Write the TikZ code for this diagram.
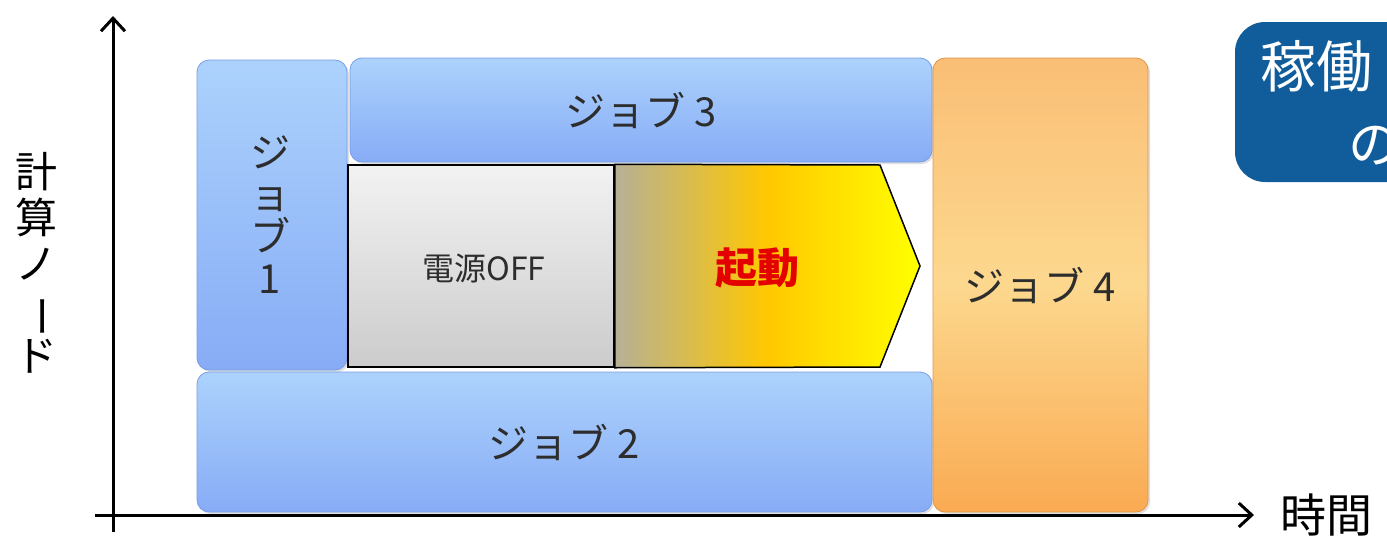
\documentclass[tikz,border=0pt]{standalone}
\usepackage{fontspec}
\usepackage{graphicx}
\setmainfont{Noto Sans CJK JP}
\usetikzlibrary{arrows.meta,shadows}
\definecolor{btop}{RGB}{172,210,252}
\definecolor{bbot}{RGB}{135,172,246}
\definecolor{bedge}{RGB}{120,158,232}
\definecolor{otop}{RGB}{250,190,118}
\definecolor{omid}{RGB}{252,216,142}
\definecolor{obot}{RGB}{250,170,82}
\definecolor{oedge}{RGB}{225,150,70}
\definecolor{txt}{RGB}{45,45,45}
\definecolor{callout}{RGB}{17,93,155}
\definecolor{bootl}{RGB}{182,176,150}
\definecolor{bootm}{RGB}{255,200,0}
\definecolor{bootr}{RGB}{255,255,0}
\tikzset{
  jobbox/.style={rounded corners=12pt, draw=bedge, line width=0.8pt,
    top color=btop, bottom color=bbot, text=txt, inner sep=0pt,
    drop shadow={shadow xshift=2pt, shadow yshift=-2pt, opacity=0.25},
    font=\fontsize{40}{42}\selectfont, align=center},
  jobfour/.style={jobbox, draw=oedge, top color=otop, bottom color=obot, middle color=omid},
  offbox/.style={draw=black, line width=1.5pt, top color=white!95!black, bottom color=white!80!black,
    inner sep=0pt},
  axis/.style={line width=3pt, -{Straight Barb[length=13pt,width=24pt,line width=3pt]}},
  lbl/.style={text=black, inner sep=0pt, align=center}
}
\begin{document}
\begin{tikzpicture}[x=1pt,y=-1pt]
\useasboundingbox (0,0) rectangle (1387,536);
\clip (0,0) rectangle (1387,536);
% callout
\fill[callout, rounded corners=30pt] (1235,22) rectangle (1460,182);
\node[text=white, font=\fontsize{56}{60}\selectfont, anchor=west, inner sep=0pt] (c1) at (1260,66) {稼働};
\node[text=white, font=\fontsize{52}{56}\selectfont, anchor=west, inner sep=0pt] (c2) at (1348,146) {の};
% jobs
\node[jobbox, minimum width=150pt, minimum height=310pt] (j1) at (272,215) {};
\node[text=txt, font=\fontsize{40}{42}\selectfont, align=center, inner sep=0pt] (j1t) at (270,215) {ジ\\ョ\\ブ\\1};
\node[jobbox, minimum width=582pt, minimum height=104pt] (j3) at (641,110) {ジョブ 3};
\node[jobbox, minimum width=735pt, minimum height=140pt] (j2) at (564.5,442) {ジョブ 2};
\node[jobfour, minimum width=215pt, minimum height=454pt] (j4) at (1040.5,285) {ジョブ 4};
% power off
\node[offbox, minimum width=266pt, minimum height=202pt] (off) at (481,266) {};
\node[text=txt, font=\fontsize{32}{34}\selectfont] (offt) at (484,268) {電源OFF};
% boot arrow
\draw[line width=1.5pt, left color=bootl, right color=bootr, middle color=bootm]
  (off.north east) -- (880,165) -- (920,266) -- (880,367) -- (off.south east) -- cycle;
\node[text=red!90!black, font=\fontsize{42}{44}\selectfont\bfseries] (boot) at (757,268) {起動};
% axes
\coordinate (ybot) at (113,532);
\coordinate (ytop) at (113,16);
\coordinate (xl) at (95,515);
\coordinate (xr) at (1254,515);
\draw[axis] (ybot) -- (ytop);
\draw[axis] (xl) -- (xr);
% axis labels
\node[lbl, font=\fontsize{42}{46}\selectfont] (ylab) at (36,263) {計\\算\\ノ\\\rotatebox[origin=c]{-90}{ー}\\ド};
\node[lbl, font=\fontsize{46}{50}\selectfont, anchor=west] (xlab) at (1280,515) {時間};
\end{tikzpicture}
\end{document}
